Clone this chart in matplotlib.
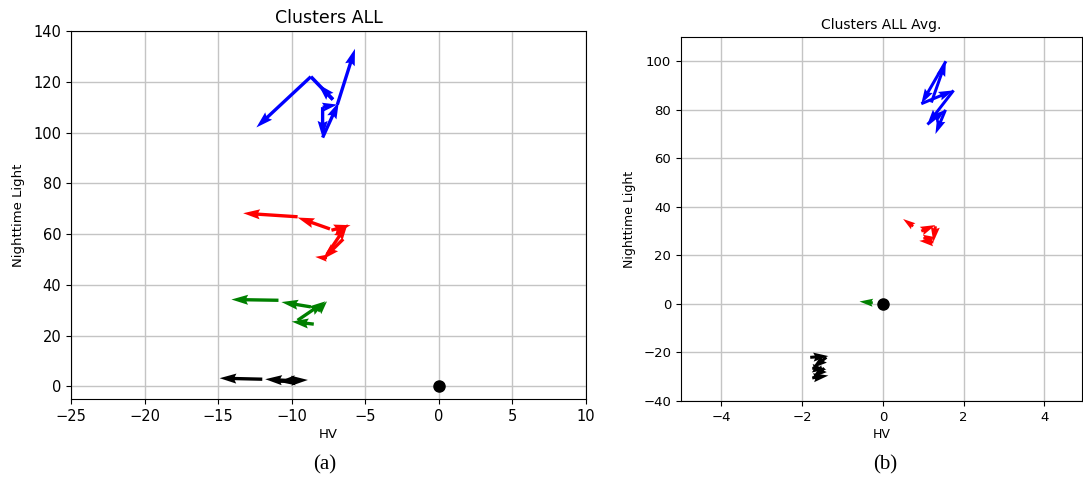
import matplotlib
matplotlib.use("Agg")
import matplotlib.pyplot as plt
import numpy as np

# ---- data: arrow segments (x0, y0, x1, y1) per cluster ----
# Panel (a): Clusters ALL
a_blue_x0 = [-6.9, -7.9, -7.9, -7.2, -8.7, -7.9]
a_blue_y0 = [111.0, 110.0, 98.0, 113.0, 122.0, 110.0]
a_blue_x1 = [-5.7, -7.9, -6.8, -8.2, -12.4, -6.9]
a_blue_y1 = [133.0, 98.0, 112.0, 119.0, 102.0, 111.0]
# plain connecting line (no head) within the blue cluster
a_blue_line_x = [-8.7, -7.2]
a_blue_line_y = [122.0, 113.0]

a_red_x0 = [-6.5, -7.6, -7.3, -7.4, -9.6, -7.6]
a_red_y0 = [58.0, 52.0, 61.5, 62.0, 66.8, 50.5]
a_red_x1 = [-7.9, -6.2, -6.0, -9.6, -13.3, -8.4]
a_red_y1 = [50.0, 64.0, 63.5, 66.5, 68.2, 51.0]

a_green_x0 = [-8.5, -9.6, -8.2, -8.7, -10.9]
a_green_y0 = [24.5, 26.0, 29.5, 31.3, 33.9]
a_green_x1 = [-10.0, -7.7, -7.6, -10.7, -14.1]
a_green_y1 = [25.5, 33.5, 33.5, 33.2, 34.2]

a_black_x0 = [-10.0, -12.0, -10.8, -9.5]
a_black_y0 = [2.2, 2.8, 2.0, 2.5]
a_black_x1 = [-11.8, -14.9, -8.9, -10.9]
a_black_y1 = [2.8, 3.2, 2.5, 1.8]

# Panel (b): Clusters ALL Avg.
b_blue_x0 = [1.2, 1.56, 0.95, 1.75, 1.1, 1.55]
b_blue_y0 = [83.0, 100.0, 82.5, 88.0, 74.0, 80.0]
b_blue_x1 = [1.56, 0.95, 1.75, 1.1, 1.55, 1.3]
b_blue_y1 = [100.0, 82.5, 88.0, 74.0, 80.0, 70.0]

b_red_x0 = [0.75, 0.95, 1.3, 1.25, 1.0]
b_red_y0 = [32.0, 30.0, 32.0, 25.5, 27.0]
b_red_x1 = [0.5, 1.3, 1.25, 0.9, 1.3]
b_red_y1 = [35.0, 32.5, 25.5, 26.0, 27.5]

b_green_x0 = [-0.25, -0.35]
b_green_y0 = [0.5, 0.5]
b_green_x1 = [-0.58, -0.3]
b_green_y1 = [1.0, -0.8]

b_black_x0 = [-1.8, -1.4, -1.75, -1.45, -1.75]
b_black_y0 = [-22.0, -22.0, -26.5, -26.5, -30.5]
b_black_x1 = [-1.35, -1.75, -1.4, -1.75, -1.35]
b_black_y1 = [-21.5, -26.5, -27.0, -30.5, -29.5]

origin_x = [0]
origin_y = [0]

panel_a = [("blue", a_blue_x0, a_blue_y0, a_blue_x1, a_blue_y1),
           ("red", a_red_x0, a_red_y0, a_red_x1, a_red_y1),
           ("green", a_green_x0, a_green_y0, a_green_x1, a_green_y1),
           ("black", a_black_x0, a_black_y0, a_black_x1, a_black_y1)]
panel_b = [("blue", b_blue_x0, b_blue_y0, b_blue_x1, b_blue_y1),
           ("red", b_red_x0, b_red_y0, b_red_x1, b_red_y1),
           ("green", b_green_x0, b_green_y0, b_green_x1, b_green_y1),
           ("black", b_black_x0, b_black_y0, b_black_x1, b_black_y1)]

plt.rcParams['font.family'] = ['DejaVu Sans']

fig = plt.figure(figsize=(10.83, 4.87), dpi=100)
W, H = 1083, 487
axA = fig.add_axes([71 / W, 1 - 399 / H, (586 - 71) / W, (399 - 31) / H])
axB = fig.add_axes([681 / W, 1 - 401 / H, (1082 - 681) / W, (401 - 37) / H])


def draw(ax, series, width):
    for color, x0, y0, x1, y1 in series:
        x0 = np.asarray(x0); y0 = np.asarray(y0)
        dx = np.asarray(x1) - x0; dy = np.asarray(y1) - y0
        ax.quiver(x0, y0, dx, dy, angles='xy', scale_units='xy', scale=1,
                  color=color, width=width, zorder=3)
    ax.plot(origin_x, origin_y, 'o', color='black', markersize=8, zorder=4)
    ax.grid(True, color='#c4c4c4', linewidth=1)
    ax.set_axisbelow(True)


draw(axA, panel_a, 0.0065)
axA.plot(a_blue_line_x, a_blue_line_y, color='blue', linewidth=2.6,
         solid_capstyle='butt', zorder=3)
axA.set_xlim(-25, 10)
axA.set_ylim(-5, 140)
axA.set_xticks([-25, -20, -15, -10, -5, 0, 5, 10])
axA.set_yticks([0, 20, 40, 60, 80, 100, 120, 140])
axA.tick_params(labelsize=10.5)
axA.set_title("Clusters ALL", fontsize=12.5, pad=6)
axA.set_xlabel("HV", fontsize=9.5, labelpad=3)
axA.set_ylabel("Nighttime Light", fontsize=9.5, labelpad=6)

draw(axB, panel_b, 0.0075)
axB.set_xlim(-5, 4.93)
axB.set_ylim(-40, 110)
axB.set_xticks([-4, -2, 0, 2, 4])
axB.set_yticks([-40, -20, 0, 20, 40, 60, 80, 100])
axB.tick_params(labelsize=9.5)
axB.set_title("Clusters ALL Avg.", fontsize=10, pad=6)
axB.set_xlabel("HV", fontsize=9, labelpad=3)
axB.set_ylabel("Nighttime Light", fontsize=9, labelpad=5)

fig.text(325 / W, 1 - 465 / H, "(a)", family='Liberation Serif', fontsize=15,
         ha='center', va='center')
fig.text(885 / W, 1 - 465 / H, "(b)", family='Liberation Serif', fontsize=15,
         ha='center', va='center')

fig.savefig("out.png", dpi=100)
